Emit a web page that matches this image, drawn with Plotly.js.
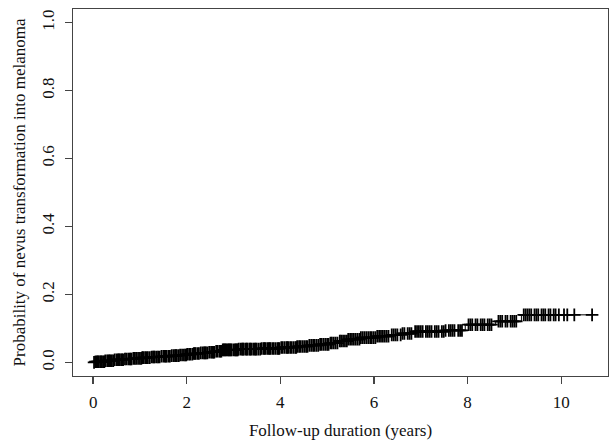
<!DOCTYPE html>
<html>
<head>
<meta charset="utf-8">
<script src="https://cdn.plot.ly/plotly-3.0.1.min.js"></script>
<style>html,body{margin:0;padding:0;background:#fff;}#chart{width:609px;height:440px;}</style>
</head>
<body>
<div id="chart"></div>
<script>
// Event times (years) and cumulative probability after each event
var eventTimes = [0.05, 0.25, 0.45, 0.65, 0.85, 1.05, 1.25, 1.45, 1.65, 1.85, 2.0, 2.15, 2.3, 2.45, 2.6, 2.75, 3.1, 3.6, 4.0, 4.35, 4.6, 4.85, 5.05, 5.25, 5.45, 5.7, 6.05, 6.35, 6.6, 6.85, 7.5, 7.95, 8.6, 9.15];
var cumInc = [0.002, 0.005, 0.008, 0.010, 0.012, 0.014, 0.016, 0.018, 0.020, 0.022, 0.024, 0.026, 0.028, 0.030, 0.033, 0.037, 0.039, 0.041, 0.044, 0.047, 0.050, 0.053, 0.057, 0.063, 0.068, 0.073, 0.077, 0.081, 0.085, 0.091, 0.094, 0.111, 0.121, 0.140];
// Censoring times (years)
var censorTimes = [0.02,0.05,0.08,0.10,0.12,0.15,0.17,0.19,0.22,0.24,0.26,0.30,0.33,0.35,0.37,0.40,0.43,0.46,0.50,0.53,0.55,0.57,0.60,0.62,0.64,0.68,0.71,0.75,0.78,0.80,0.82,0.86,0.89,0.92,0.96,1.00,1.03,1.05,1.07,1.11,1.14,1.17,1.21,1.25,1.28,1.30,1.32,1.36,1.39,1.42,1.46,1.50,1.53,1.55,1.57,1.61,1.64,1.68,1.72,1.75,1.77,1.79,1.83,1.86,1.90,1.94,1.97,1.99,2.01,2.05,2.08,2.12,2.15,2.17,2.19,2.23,2.26,2.30,2.34,2.37,2.39,2.41,2.44,2.48,2.52,2.55,2.57,2.59,2.63,2.66,2.70,2.72,2.74,2.77,2.79,2.81,2.83,2.85,2.88,2.90,2.92,2.94,2.96,3.00,3.03,3.05,3.07,3.09,3.11,3.15,3.18,3.20,3.22,3.26,3.28,3.30,3.34,3.36,3.38,3.42,3.45,3.47,3.49,3.53,3.57,3.60,3.64,3.66,3.68,3.72,3.75,3.77,3.79,3.83,3.86,3.90,3.94,3.96,3.98,4.02,4.05,4.09,4.13,4.15,4.17,4.21,4.24,4.28,4.32,4.34,4.36,4.40,4.43,4.47,4.51,4.55,4.58,4.62,4.66,4.70,4.73,4.77,4.81,4.85,4.88,4.92,4.96,5.00,5.03,5.07,5.10,5.14,5.18,5.22,5.27,5.30,5.34,5.38,5.42,5.45,5.49,5.53,5.57,5.61,5.65,5.69,5.72,5.76,5.80,5.84,5.88,5.92,5.95,5.99,6.03,6.07,6.11,6.15,6.19,6.23,6.27,6.31,6.38,6.42,6.46,6.50,6.57,6.61,6.65,6.72,6.76,6.80,6.88,6.92,6.96,7.00,7.04,7.11,7.15,7.19,7.23,7.30,7.34,7.38,7.45,7.49,7.53,7.60,7.64,7.68,7.72,7.80,7.84,7.88,8.02,8.06,8.10,8.17,8.21,8.28,8.32,8.36,8.43,8.47,8.51,8.66,8.70,8.74,8.81,8.85,8.92,8.96,9.00,9.04,9.20,9.24,9.28,9.32,9.36,9.43,9.47,9.51,9.58,9.62,9.66,9.73,9.77,9.84,9.88,9.95,10.06,10.13,10.28,10.66];
var xTicks = [0, 2, 4, 6, 8, 10];
var yTicks = [0.0, 0.2, 0.4, 0.6, 0.8, 1.0];
var yTickText = ["0.0", "0.2", "0.4", "0.6", "0.8", "1.0"];

function stepValue(t) {
  var v = 0;
  for (var i = 0; i < eventTimes.length; i++) { if (eventTimes[i] <= t) v = cumInc[i]; }
  return v;
}
var lastT = censorTimes[censorTimes.length - 1];
var lineX = [0].concat(eventTimes).concat([lastT]);
var lineY = [0].concat(cumInc).concat([cumInc[cumInc.length - 1]]);
var censorY = censorTimes.map(stepValue);

var font = {family: "Liberation Serif, Times New Roman, serif", size: 17, color: "#111"};
var traces = [
  {x: lineX, y: lineY, type: "scatter", mode: "lines", line: {shape: "hv", color: "#000", width: 1}, hoverinfo: "skip"},
  {x: censorTimes, y: censorY, type: "scatter", mode: "markers",
   marker: {symbol: "cross-thin", size: 9, color: "#000", line: {color: "#000", width: 1.8}}, hoverinfo: "skip"}
];
var layout = {
  width: 609, height: 440,
  margin: {l: 73, r: 1, t: 9, b: 64},
  paper_bgcolor: "#fff", plot_bgcolor: "#fff",
  showlegend: false,
  font: font,
  xaxis: {
    range: [-0.43, 11.0], tickvals: xTicks, ticktext: xTicks.map(String),
    showgrid: false, zeroline: false, showline: true, mirror: true,
    linecolor: "#444", linewidth: 1.3, ticks: "outside", ticklen: 7, tickcolor: "#444", tickwidth: 1.3,
    tickfont: font, ticklabelstandoff: 3,
    title: {text: "Follow-up duration (years)", font: font, standoff: 13}
  },
  yaxis: {
    range: [-0.04, 1.04], tickvals: yTicks, ticktext: yTickText,
    showgrid: false, zeroline: false, showline: true, mirror: true,
    linecolor: "#444", linewidth: 1.3, ticks: "outside", ticklen: 7, tickcolor: "#444", tickwidth: 1.3,
    tickangle: -90, tickfont: font, ticklabelstandoff: 4,
    title: {text: "Probability of nevus transformation into melanoma", font: font, standoff: 9}
  }
};
Plotly.newPlot("chart", traces, layout, {staticPlot: true, displayModeBar: false});
</script>
</body>
</html>
